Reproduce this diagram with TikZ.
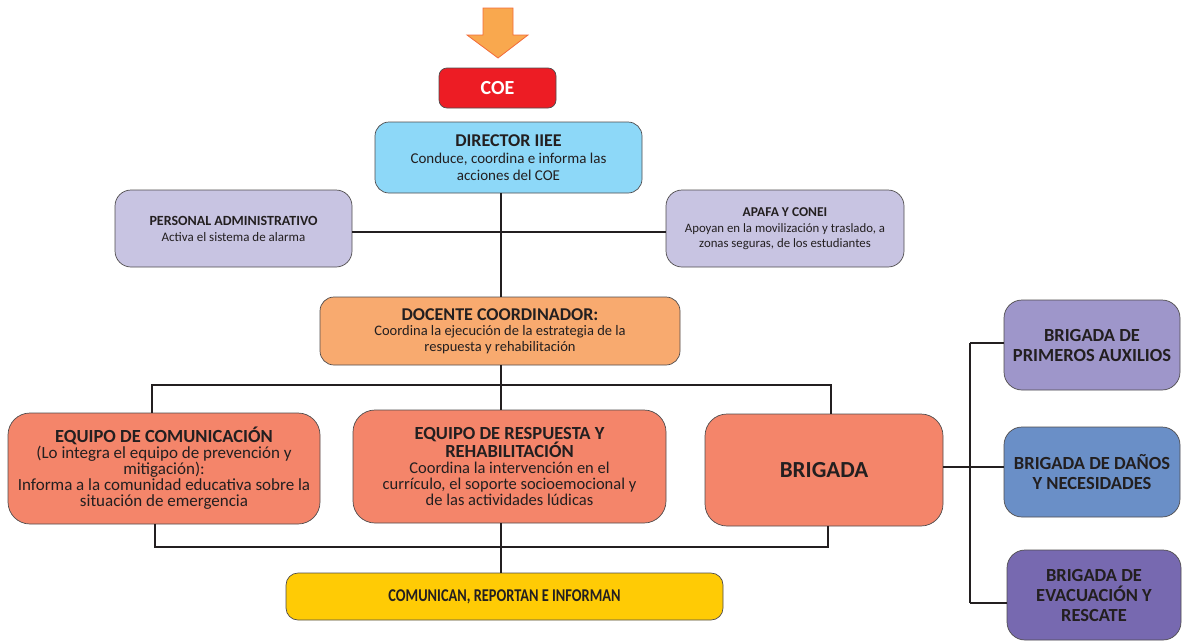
\documentclass[tikz,border=0pt]{standalone}
\usepackage{fontspec}
\setmainfont{Carlito}
\definecolor{ink}{HTML}{231F20}
\definecolor{coered}{HTML}{ED1C24}
\definecolor{dirblue}{HTML}{8DD8F8}
\definecolor{lav}{HTML}{C8C4E2}
\definecolor{peach}{HTML}{F8AA6F}
\definecolor{salmon}{HTML}{F4856A}
\definecolor{yell}{HTML}{FFCB05}
\definecolor{bone}{HTML}{9E96CA}
\definecolor{btwo}{HTML}{6A8FC7}
\definecolor{bthree}{HTML}{7769B0}
\definecolor{arrowfill}{HTML}{F9A84E}
\definecolor{arrowline}{HTML}{F26B3A}
\newcommand{\fs}[2]{\fontsize{#1}{#2}\selectfont}
\tikzset{
  box/.style={draw=ink!80, line width=0.7pt, align=center, text=ink, inner sep=2pt},
  conn/.style={draw=ink, line width=2.2pt},
}
\begin{document}
\begin{tikzpicture}[x=1pt,y=-1pt]
\useasboundingbox (0,0) rectangle (1182,640);
% arrow
\draw[fill=arrowfill, draw=arrowline, line width=0.8pt]
  (483,8) -- (513,8) -- (513,35) -- (528,35) -- (498,58) -- (467,35) -- (483,35) -- cycle;
% nodes
\node[box, fill=coered, rounded corners=8pt, minimum width=117pt, minimum height=40pt, text=white, font=\fs{20}{22}\bfseries] (coe) at (497.5,88) {COE};
\node[box, fill=dirblue, rounded corners=14pt, minimum width=267pt, minimum height=71pt, font=\fs{15}{17}] (dir) at (508.5,157.5)
  {{\fs{18}{17}\bfseries DIRECTOR IIEE}\\Conduce, coordina e informa las\\acciones del COE};
\node[box, fill=lav, rounded corners=16pt, minimum width=237pt, minimum height=77pt, font=\fs{13}{16}] (adm) at (233.5,228.5)
  {{\fs{14}{16}\bfseries PERSONAL ADMINISTRATIVO}\\Activa el sistema de alarma};
\node[box, fill=lav, rounded corners=16pt, minimum width=238pt, minimum height=77pt, font=\fs{12.8}{15}] (apafa) at (785,228.5)
  {{\fs{13.5}{15}\bfseries APAFA Y CONEI}\\[1pt]Apoyan en la movilización y traslado, a\\zonas seguras, de los estudiantes};
\node[box, fill=peach, rounded corners=14pt, minimum width=360pt, minimum height=68pt, font=\fs{14.5}{15.5}] (doc) at (500,331)
  {{\fs{18}{15.5}\bfseries DOCENTE COORDINADOR:}\\Coordina la ejecución de la estrategia de la\\respuesta y rehabilitación};
\node[box, fill=salmon, rounded corners=22pt, minimum width=312pt, minimum height=111pt, font=\fs{17}{16}] (com) at (164,468.5)
  {{\fs{18.5}{16}\bfseries EQUIPO DE COMUNICACIÓN}\\(Lo integra el equipo de prevención y\\mitigación):\\Informa a la comunidad educativa sobre la\\situación de emergencia};
\node[box, fill=salmon, rounded corners=22pt, minimum width=313pt, minimum height=113pt, font=\fs{16.5}{16}] (resp) at (509.5,466.5)
  {{\fs{18.5}{16}\bfseries EQUIPO DE RESPUESTA Y}\\{\fs{18.5}{16}\bfseries REHABILITACIÓN}\\Coordina la intervención en el\\currículo, el soporte socioemocional y\\de las actividades lúdicas};
\node[box, fill=salmon, rounded corners=22pt, minimum width=238pt, minimum height=112pt, font=\fs{23}{25}\bfseries] (brig) at (824,470)
  {BRIGADA};
\node[box, fill=yell, rounded corners=12pt, minimum width=437pt, minimum height=47pt, font=\fs{18}{19}\bfseries] (rep) at (504.5,596.5)
  {\scalebox{0.8}[1]{COMUNICAN, REPORTAN E INFORMAN}};
\node[box, fill=bone, rounded corners=18pt, minimum width=176pt, minimum height=90pt, font=\fs{18.5}{20}\bfseries] (b1) at (1092,345)
  {BRIGADA DE\\PRIMEROS AUXILIOS};
\node[box, fill=btwo, rounded corners=18pt, minimum width=176pt, minimum height=90pt, font=\fs{18.5}{20}\bfseries] (b2) at (1092,472)
  {BRIGADA DE DAÑOS\\Y NECESIDADES};
\node[box, fill=bthree, rounded corners=18pt, minimum width=174pt, minimum height=90pt, font=\fs{18.5}{20}\bfseries] (b3) at (1094,595)
  {BRIGADA DE\\EVACUACIÓN Y\\RESCATE};
% helper coordinates
\coordinate (tx) at (501,0);
\coordinate (c1) at (152,0);
\coordinate (c3) at (831,0);
\coordinate (c1b) at (155,0);
\coordinate (c3b) at (828,0);
\coordinate (ha) at (0,232);
\coordinate (bus) at (0,385);
\coordinate (bus2) at (0,547);
\coordinate (rx) at (970,0);
\coordinate (r1) at (0,343);
\coordinate (r2) at (0,467);
\coordinate (r3) at (0,603);
% connectors
\draw[conn] (adm.east |- ha) -- (apafa.west |- ha);
\draw[conn] (tx |- dir.south) -- (tx |- doc.north);
\draw[conn] (tx |- doc.south) -- (tx |- bus);
\draw[conn] (c1 |- com.north) -- (c1 |- bus) -- (c3 |- bus) -- (c3 |- brig.north);
\draw[conn] (tx |- bus) -- (tx |- resp.north);
\draw[conn] (c1b |- com.south) -- (c1b |- bus2) -- (c3b |- bus2) -- (c3b |- brig.south);
\draw[conn] (tx |- resp.south) -- (tx |- rep.north);
\draw[conn] (brig.east |- r2) -- (rx |- r2);
\draw[conn] (rx |- r1) -- (rx |- r3);
\draw[conn] (rx |- r1) -- (b1.west |- r1);
\draw[conn] (rx |- r2) -- (b2.west |- r2);
\draw[conn] (rx |- r3) -- (b3.west |- r3);
\end{tikzpicture}
\end{document}
